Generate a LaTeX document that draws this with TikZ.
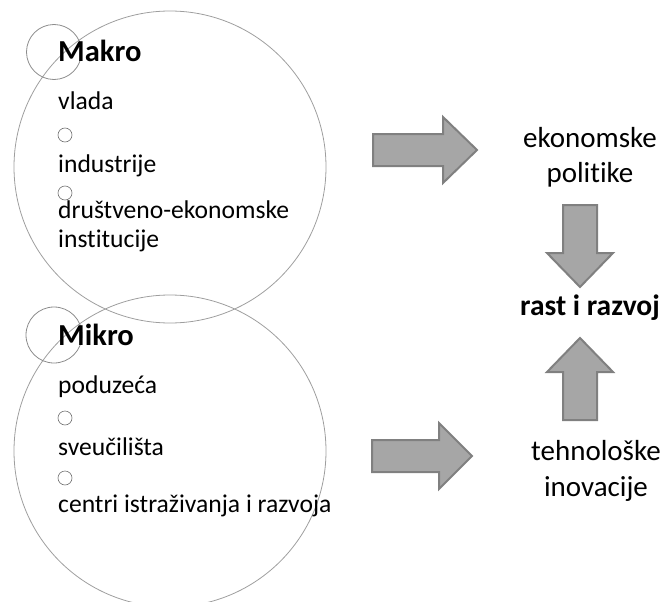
\documentclass[tikz,border=0pt]{standalone}
\usepackage{fontspec}
\setmainfont{Carlito}[Ligatures={NoCommon}]
\begin{document}
\begin{tikzpicture}[x=1pt,y=-1pt,
  bigring/.style={draw=black!38,line width=0.8pt},
  smallring/.style={draw=black!45,line width=0.8pt},
  bullet/.style={draw=black!55,line width=0.6pt},
  item/.style={anchor=base west,inner sep=0pt,font=\fontsize{25.6}{30}\selectfont},
  heading/.style={anchor=base west,inner sep=0pt,font=\fontsize{30.5}{36}\selectfont\bfseries},
  result/.style={anchor=base,inner sep=0pt,font=\fontsize{29}{35}\selectfont},
  blockarrow/.style={fill=black!35,draw=black!50,line width=2pt,line join=miter}]
\useasboundingbox (0,0) rectangle (664,602);
% big circles
\node[bigring,circle,minimum size=312pt,inner sep=0pt] (makro) at (170,167) {};
\node[bigring,circle,minimum size=312pt,inner sep=0pt] (mikro) at (170,451) {};
% small circles
\node[smallring,circle,minimum size=55pt,inner sep=0pt] (makrodot) at (54,52) {};
\node[smallring,circle,minimum size=56pt,inner sep=0pt] (mikrodot) at (54,335) {};
% Makro text
\node[heading] (makroT) at (58,62) {Makro};
\node[item] (vlada) at (58,110) {vlada};
\node[bullet,circle,minimum size=14pt,inner sep=0pt] (b1) at (65,135) {};
\node[item] (industrije) at (58,172) {industrije};
\node[bullet,circle,minimum size=14pt,inner sep=0pt] (b2) at (65,193) {};
\node[item] (drustveno) at (58,218) {društveno-ekonomske};
\node[item] (institucije) at (58,247) {institucije};
% Mikro text
\node[heading] (mikroT) at (58,345) {Mikro};
\node[item] (poduzeca) at (58,393) {poduzeća};
\node[bullet,circle,minimum size=14pt,inner sep=0pt] (b3) at (65,418) {};
\node[item] (sveucilista) at (58,455) {sveučilišta};
\node[bullet,circle,minimum size=14pt,inner sep=0pt] (b4) at (65,478) {};
\node[item] (centri) at (58,512) {centri istraživanja i razvoja};
% right texts
\node[result] (ekon1) at (590,147) {ekonomske};
\node[result] (ekon2) at (590,182) {politike};
\node[result,font=\fontsize{29.5}{35}\selectfont\bfseries] (rast) at (590,315) {rast i razvoj};
\node[result] (teh1) at (596,460) {tehnološke};
\node[result] (teh2) at (596,496) {inovacije};
% block arrows
\draw[blockarrow] (373,134) -- (443,134) -- (443,117) -- (477,150) -- (443,183) -- (443,166) -- (373,166) -- cycle;
\draw[blockarrow] (372,440) -- (439,440) -- (439,423) -- (472,456) -- (439,489) -- (439,472) -- (372,472) -- cycle;
\draw[blockarrow] (563,205) -- (597,205) -- (597,253) -- (613,253) -- (580,287) -- (547,253) -- (563,253) -- cycle;
\draw[blockarrow] (563,420) -- (597,420) -- (597,372) -- (613,372) -- (580,338) -- (547,372) -- (563,372) -- cycle;
\end{tikzpicture}
\end{document}
